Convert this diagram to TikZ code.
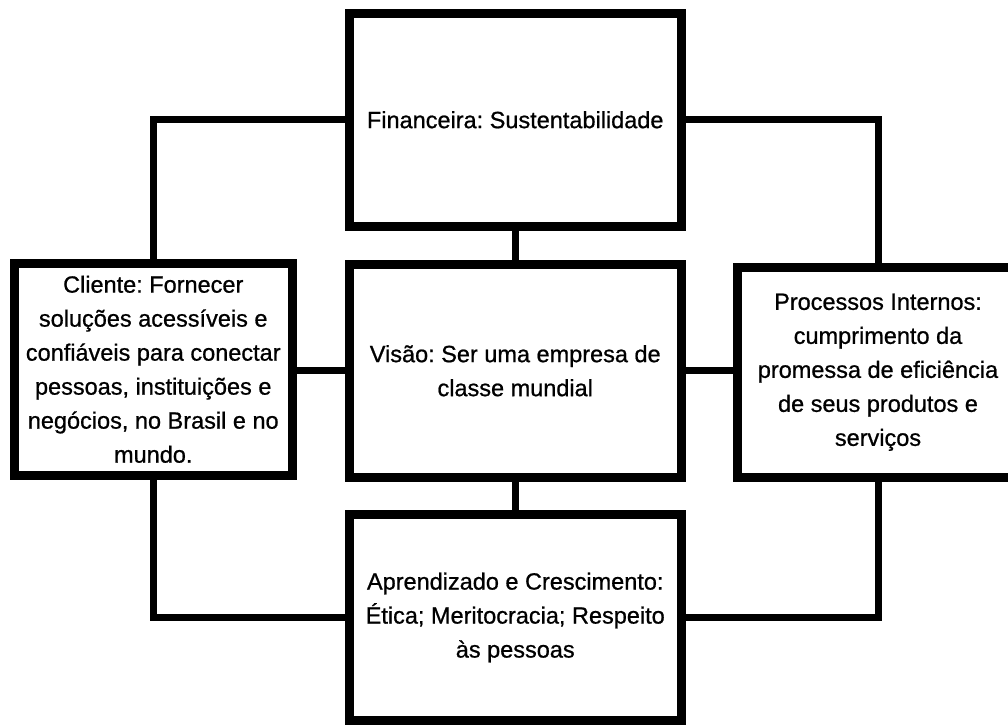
\documentclass[tikz,border=0pt]{standalone}
\usepackage{fontspec}
\setmainfont{Liberation Sans}[FakeBold=0.8]
\frenchspacing
\begin{document}
\begin{tikzpicture}[x=1pt,y=-1pt,
  bsc/.style={draw=black,line width=9pt,rectangle,inner sep=0pt,align=center,
    font=\fontsize{23.5}{34}\selectfont\frenchspacing},
  link/.style={draw=black,line width=7pt}]
\useasboundingbox[fill=white] (0,0) rectangle (1008,725);
\node[bsc,minimum width=332.5pt,minimum height=212.5pt] (fin) at (515.25,119.75) {Financeira: Sustentabilidade};
\node[bsc,minimum width=332.5pt,minimum height=212.5pt] (vis) at (515.25,370.75) {Visão: Ser uma empresa de\\classe mundial};
\node[bsc,minimum width=332.5pt,minimum height=206pt] (apr) at (515.25,617.5) {Aprendizado e Crescimento:\\Ética; Meritocracia; Respeito\\às pessoas};
\node[bsc,minimum width=278.5pt,minimum height=211.5pt] (cli) at (153.25,369.25) {Cliente: Fornecer\\soluções acessíveis e\\confiáveis para conectar\\pessoas, instituições e\\negócios, no Brasil e no\\mundo.};
\node[bsc,minimum width=281pt,minimum height=210.5pt] (pro) at (878,372.25) {Processos Internos:\\cumprimento da\\promessa de eficiência\\de seus produtos e\\serviços};
\draw[link] (fin.west) -| (cli.north);
\draw[link] (fin.east) -| (pro.north);
\draw[link] (fin.south) -- (vis.north);
\draw[link] (vis.south) -- (apr.north);
\draw[link] (vis.west) -- (vis.west -| cli.east);
\draw[link] (vis.east) -- (vis.east -| pro.west);
\draw[link] (cli.south) |- (apr.west);
\draw[link] (pro.south) |- (apr.east);
\end{tikzpicture}
\end{document}
